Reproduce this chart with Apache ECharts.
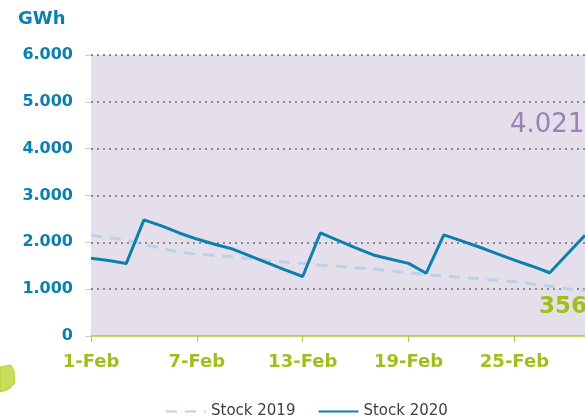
<!DOCTYPE html>
<html>
<head>
<meta charset="utf-8">
<script src="https://cdn.jsdelivr.net/npm/echarts@6/dist/echarts.min.js"></script>
<style>
  html, body { margin: 0; padding: 0; background: #fff; }
  #main { width: 585px; height: 420px; }
</style>
</head>
<body>
<div id="main"></div>
<script>
// categories (days of February)
var days = ['1-Feb', '2-Feb', '3-Feb', '4-Feb', '5-Feb', '6-Feb', '7-Feb', '8-Feb', '9-Feb', '10-Feb',
    '11-Feb', '12-Feb', '13-Feb', '14-Feb', '15-Feb', '16-Feb', '17-Feb', '18-Feb', '19-Feb', '20-Feb',
    '21-Feb', '22-Feb', '23-Feb', '24-Feb', '25-Feb', '26-Feb', '27-Feb', '28-Feb', '29-Feb'];

// stock in GWh
var stock2019 = [2150, 2100, 2050, 1960, 1870, 1790, 1750, 1720, 1690, 1650,
    1610, 1580, 1550, 1510, 1490, 1460, 1430, 1390, 1350, 1310,
    1280, 1250, 1220, 1190, 1160, 1110, 1060, 1010, 970];
var stock2020 = [1660, 1610, 1550, 2480, 2350, 2200, 2070, 1960, 1860, 1710,
    1560, 1410, 1270, 2200, 2040, 1880, 1730, 1640, 1550, 1340,
    2160, 2030, 1900, 1760, 1620, 1490, 1350, 1750, 2150];

var seriesNames = ['Stock 2019', 'Stock 2020'];

var blue = '#0b80ad';
var green = '#a3bd1c';

var myChart = echarts.init(document.getElementById('main'));

var option = {
    animation: false,
    textStyle: { fontFamily: 'DejaVu Sans' },
    title: {
        text: 'GWh',
        left: 13,
        top: 5,
        textStyle: { color: blue, fontSize: 18, fontWeight: 'bold', fontFamily: 'DejaVu Sans' }
    },
    legend: {
        data: seriesNames,
        left: 160,
        top: 399,
        itemWidth: 40,
        itemHeight: 14,
        itemGap: 22,
        itemStyle: { opacity: 0 },
        textStyle: { color: '#404040', fontSize: 15 }
    },
    grid: {
        left: 91,
        top: 55,
        bottom: 84,
        right: -10,
        show: true,
        backgroundColor: '#e5dfeb',
        borderWidth: 0
    },
    xAxis: {
        type: 'category',
        data: days,
        boundaryGap: false,
        z: 5,
        axisLine: { lineStyle: { color: '#b0c840', width: 1.5 } },
        axisTick: { interval: 5, length: 6, lineStyle: { color: '#b0c840' } },
        axisLabel: {
            interval: 5,
            margin: 17,
            color: green,
            fontSize: 18,
            fontWeight: 'bold'
        },
        splitLine: { show: false }
    },
    yAxis: {
        type: 'value',
        min: 0,
        max: 6000,
        interval: 1000,
        axisLine: { show: false },
        axisTick: { show: true, length: 6, lineStyle: { color: '#d0d0d0' } },
        axisLabel: {
            margin: 18,
            color: blue,
            fontSize: 16,
            fontWeight: 'bold',
            formatter: function (v) {
                return v === 0 ? '0' : (v / 1000) + '.000';
            }
        },
        splitLine: { showMinLine: false, lineStyle: { color: '#8e8a92', width: 2, type: [2, 4] } }
    },
    series: [{
        name: seriesNames[0],
        type: 'line',
        data: stock2019,
        symbol: 'none',
        lineStyle: { color: '#bad2e9', width: 3, type: [11, 8] },
        itemStyle: { color: '#bad2e9' },
        z: 2
    }, {
        name: seriesNames[1],
        type: 'line',
        data: stock2020,
        symbol: 'none',
        lineStyle: { color: blue, width: 3 },
        itemStyle: { color: blue },
        z: 3
    }],
    graphic: [{
        type: 'text',
        left: 510,
        top: 112,
        style: { text: '4.021', fill: '#9a80b9', fontSize: 26, fontFamily: 'DejaVu Sans' }
    }, {
        type: 'text',
        left: 539,
        top: 296,
        style: { text: '356', fill: green, fontSize: 23, fontWeight: 'bold', fontFamily: 'DejaVu Sans' }
    }, {
        type: 'polygon',
        shape: { points: [[0, 367], [11, 365], [14, 371], [15, 383], [9, 389], [0, 392]] },
        style: { fill: '#c9dc5c', stroke: '#b7d030', lineWidth: 1 }
    }]
};

myChart.setOption(option);
</script>
</body>
</html>
